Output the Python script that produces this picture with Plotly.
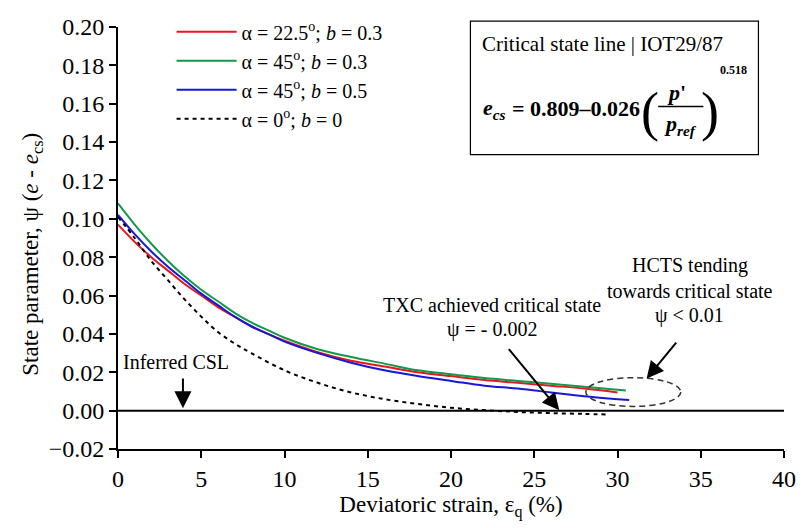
import plotly.graph_objects as go

# ---------------- data ----------------
x_red = [0, 1, 2, 3, 4, 5, 6, 7, 8, 9, 10, 12, 14, 16, 18, 20, 22, 24, 26, 28, 30.0]
y_red = [0.097, 0.088, 0.080, 0.073, 0.066, 0.060, 0.054, 0.049, 0.044, 0.040, 0.0365,
         0.0305, 0.026, 0.023, 0.020, 0.018, 0.016, 0.0145, 0.013, 0.0115, 0.0095]

x_green = [0, 1, 2, 3, 4, 5, 6, 7, 8, 9, 10, 12, 14, 16, 18, 20, 22, 24, 26, 28, 30.5]
y_green = [0.108, 0.097, 0.087, 0.078, 0.070, 0.063, 0.057, 0.051, 0.046, 0.042, 0.038,
           0.032, 0.028, 0.0245, 0.021, 0.019, 0.017, 0.0155, 0.014, 0.0125, 0.0105]

x_blue = [0, 1, 2, 3, 4, 5, 6, 7, 8, 9, 10, 12, 14, 16, 18, 20, 22, 24, 26, 28, 30.7]
y_blue = [0.102, 0.092, 0.083, 0.075, 0.068, 0.061, 0.055, 0.049, 0.044, 0.040, 0.036,
          0.030, 0.025, 0.021, 0.018, 0.0155, 0.013, 0.0115, 0.0095, 0.0075, 0.0055]

x_dash = [0, 1, 2, 3, 4, 5, 6, 7, 8, 10, 12, 14, 16, 18, 20, 22, 24, 26, 28, 29.4]
y_dash = [0.101, 0.090, 0.078, 0.068, 0.058, 0.049, 0.041, 0.035, 0.030, 0.021, 0.0145,
          0.0095, 0.006, 0.0035, 0.0015, 0.0003, -0.0007, -0.0013, -0.0017, -0.002]

series_names = ["α = 22.5<sup>o</sup>; <i>b</i> = 0.3",
                "α = 45<sup>o</sup>; <i>b</i> = 0.3",
                "α = 45<sup>o</sup>; <i>b</i> = 0.5",
                "α = 0<sup>o</sup>; <i>b</i> = 0"]

x_ticks = [0, 5, 10, 15, 20, 25, 30, 35, 40]
y_ticks = [-0.02, 0.00, 0.02, 0.04, 0.06, 0.08, 0.10, 0.12, 0.14, 0.16, 0.18, 0.20]

# ellipse around HCTS end points (data units)
ell_x0, ell_x1, ell_y0, ell_y1 = 28.1, 33.8, 0.0022, 0.0172

FONT = "Liberation Serif"

fig = go.Figure()
fig.add_trace(go.Scatter(x=x_red, y=y_red, mode="lines", name=series_names[0],
                         line=dict(color="#e8161e", width=2, shape="spline")))
fig.add_trace(go.Scatter(x=x_green, y=y_green, mode="lines", name=series_names[1],
                         line=dict(color="#12994a", width=2, shape="spline")))
fig.add_trace(go.Scatter(x=x_blue, y=y_blue, mode="lines", name=series_names[2],
                         line=dict(color="#1717d6", width=2, shape="spline")))
fig.add_trace(go.Scatter(x=x_dash, y=y_dash, mode="lines", name=series_names[3],
                         line=dict(color="black", width=2, dash="4px,4px", shape="spline")))

# inferred CSL (psi = 0)
fig.add_shape(type="line", xref="x", yref="y", x0=0, x1=40, y0=0, y1=0,
              line=dict(color="black", width=2))
# ellipse
fig.add_shape(type="circle", xref="x", yref="y", x0=ell_x0, x1=ell_x1, y0=ell_y0, y1=ell_y1,
              line=dict(color="#333", width=1.5, dash="6px,4px"))

L, R, T, B = 117.5, 795, 19, 449
W, H = 808, 528


def px(xp):
    return (xp - L) / (R - L)


def py(yp):
    return (B - yp) / (B - T)


# box with CSL equation
fig.add_shape(type="rect", xref="paper", yref="paper", x0=px(476), x1=px(769), y0=py(149), y1=py(13),
              line=dict(color="black", width=1.2), fillcolor="white")

ann = []


def text(xp, yp, s, size=20, xanchor="center", yanchor="middle", angle=0):
    ann.append(dict(xref="paper", yref="paper", x=px(xp), y=py(yp), text=s, showarrow=False,
                    textangle=angle,
                    font=dict(family=FONT, size=size, color="black"), xanchor=xanchor, yanchor=yanchor))


text(486, 36, "Critical state line | IOT29/87", size=21, xanchor="left")
text(487, 103, "<b><i>e</i></b><sub><b><i>cs</i></b></sub>", size=22, xanchor="left")
text(516, 102, "<b>= 0.809–0.026</b>", size=22, xanchor="left")
text(647, 106, "(", size=54, xanchor="left")
text(731, 106, ")", size=54, xanchor="right")
text(686, 86, "<b><i>p</i>'</b>", size=22)
text(690, 119, "<b><i>p</i></b><sub><b><i>ref</i></b></sub>", size=22)
fig.add_shape(type="line", xref="paper", yref="paper", x0=px(667), x1=px(713), y0=py(100), y1=py(100),
              line=dict(color="black", width=1.5))
text(728, 63, "<b>0.518</b>", size=12, xanchor="left")

text(177, 360, "Inferred CSL", size=20)
text(498, 302, "TXC achieved critical state", size=20)
text(498, 327, "ψ = - 0.002", size=20)
text(699, 262, "HCTS tending", size=20)
text(699, 288, "towards critical state", size=20)
text(699, 313, "ψ < 0.01", size=20)

# axis titles
text(30, 250, "State parameter, ψ (<i>e</i> - <i>e</i><sub>cs</sub>)", size=23, angle=-90)

# arrows
for (tx, ty, hx, hy) in [(3.9, 0.0176, 3.9, 0.0012), (23.4, 0.0328, 26.5, 0.0002), (33.6, 0.0362, 31.75, 0.0167)]:
    ann.append(dict(xref="x", yref="y", x=hx, y=hy, ax=tx, ay=ty, axref="x", ayref="y",
                    showarrow=True, arrowhead=2, arrowsize=1.7, arrowwidth=2, arrowcolor="black", text=""))

fig.update_layout(
    width=W, height=H,
    margin=dict(l=L, r=W - R, t=T, b=H - B),
    paper_bgcolor="white", plot_bgcolor="white",
    font=dict(family=FONT, size=22, color="black"),
    annotations=ann,
    showlegend=True,
    legend=dict(x=px(172), y=py(4), xanchor="left", yanchor="top", bgcolor="rgba(0,0,0,0)",
                font=dict(family=FONT, size=20), itemwidth=60, tracegroupgap=0),
    xaxis=dict(range=[0, 40], tickvals=x_ticks, ticktext=[str(v) for v in x_ticks],
               showgrid=False, zeroline=False, showline=True, linecolor="black", linewidth=2,
               ticks="outside", ticklen=7, tickwidth=1.5, tickcolor="black",
               tickfont=dict(family=FONT, size=24),
               title=dict(text="Deviatoric strain, ε<sub>q</sub> (%)", font=dict(family=FONT, size=23), standoff=4)),
    yaxis=dict(range=[-0.02, 0.20], tickvals=y_ticks,
               ticktext=[f"{v:.2f}".replace("-", "−") for v in y_ticks],
               showgrid=False, zeroline=False, showline=True, linecolor="black", linewidth=2,
               ticks="outside", ticklen=7, tickwidth=1.5, tickcolor="black",
               tickfont=dict(family=FONT, size=24)),
)

fig.write_html("out.html")
